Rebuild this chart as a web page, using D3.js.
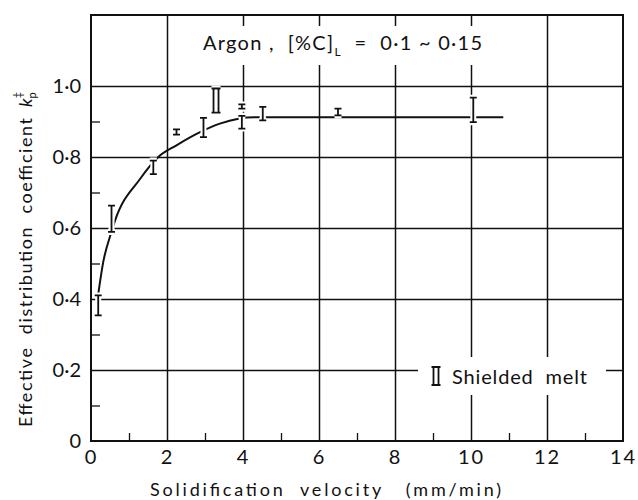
<!DOCTYPE html>
<html>
<head>
<meta charset="utf-8">
<script src="https://cdn.jsdelivr.net/npm/d3@7"></script>
<style>
body { margin: 0; background: #fff; }
text { font-family: Lato, "DejaVu Sans", sans-serif; fill: #111; white-space: pre; }
.grid line { stroke: #111; stroke-width: 1.5; }
.grid path { display: none; }
.minor line { stroke: #111; stroke-width: 1.3; }
.minor path { display: none; }
.lbl path, .lbl line { display: none; }
</style>
</head>
<body>
<svg id="chart" width="638" height="500"></svg>
<script>
var xTicks = [0, 2, 4, 6, 8, 10, 12, 14];
var xMinor = [1, 3, 5, 7, 9, 11, 13];
var yTicks = [0, 0.2, 0.4, 0.6, 0.8, 1.0];
var yTickLabels = ["0", "0·2", "0·4", "0·6", "0·8", "1·0"];
var yMinor = [0.1, 0.3, 0.5, 0.7, 0.9];

// argon, measured scatter bars (velocity, low k, high k)
var barVelocity = [0.19, 0.54, 1.64, 2.25, 2.96, 3.97, 3.97, 4.52, 6.5, 10.06];
var barLow      = [0.354, 0.589, 0.752, 0.863, 0.856, 0.880, 0.936, 0.903, 0.917, 0.898];
var barHigh     = [0.410, 0.663, 0.790, 0.878, 0.910, 0.916, 0.948, 0.941, 0.936, 0.967];

// shielded melt
var shieldVelocity = [3.29];
var shieldLow      = [0.925];
var shieldHigh     = [0.993];

// fitted curve
var curveVelocity = [0.19, 0.32, 0.52, 0.63, 1.29, 1.77, 2.25, 2.87, 3.39, 3.88, 4.3, 10.85];
var curveK        = [0.413, 0.503, 0.583, 0.62, 0.738, 0.80, 0.833, 0.87, 0.894, 0.908, 0.912, 0.912];

var margin = {top: 15, right: 15, bottom: 59, left: 91},
    width = 638 - margin.left - margin.right,
    height = 500 - margin.top - margin.bottom;

var svg = d3.select("#chart");
var g = svg.append("g")
    .attr("transform", "translate(" + margin.left + "," + margin.top + ")");

var x = d3.scaleLinear().domain([0, 14]).range([0, width]);
var y = d3.scaleLinear().domain([0, 1.2]).range([height, 0]);

// major grid
g.append("g").attr("class", "grid")
    .attr("transform", "translate(0," + height + ")")
    .call(d3.axisBottom(x).tickValues(xTicks.slice(1, -1)).tickSize(-height).tickFormat(""));
g.append("g").attr("class", "grid")
    .call(d3.axisLeft(y).tickValues(yTicks.slice(1)).tickSize(-width).tickFormat(""));

// minor ticks inside the frame
g.append("g").attr("class", "minor")
    .attr("transform", "translate(0," + height + ")")
    .call(d3.axisBottom(x).tickValues(xMinor).tickSize(-8).tickFormat(""));
g.append("g").attr("class", "minor")
    .call(d3.axisLeft(y).tickValues(yMinor).tickSize(-9).tickFormat(""));

// tick labels
g.append("g").attr("class", "lbl")
    .attr("transform", "translate(0," + height + ")")
    .call(d3.axisBottom(x).tickValues(xTicks).tickSize(0).tickPadding(9))
    .selectAll("text").style("font-size", "20px").style("font-family", "Lato, sans-serif")
    .style("letter-spacing", "2px").attr("fill", "#111");
g.append("g").attr("class", "lbl")
    .call(d3.axisLeft(y).tickValues(yTicks).tickSize(0).tickPadding(10)
        .tickFormat(function(d, i) { return yTickLabels[i]; }))
    .selectAll("text").style("font-size", "20px").style("font-family", "Lato, sans-serif")
    .attr("fill", "#111");

// annotation, breaks the grid behind it
var note = g.append("g");
var noteBg = note.append("rect").attr("fill", "#fff");
var noteText = note.append("text")
    .attr("x", 112).attr("y", 35)
    .attr("textLength", 279).attr("lengthAdjust", "spacing")
    .style("font-size", "20px");
noteText.append("tspan").text("Argon ,  [%C]");
noteText.append("tspan").attr("dy", 6).style("font-size", "12px").text("L");
noteText.append("tspan").attr("dy", -6).text("  =  0·1 ~ 0·15");
var nb = noteText.node().getBBox();
noteBg.attr("x", nb.x - 8).attr("y", nb.y - 4).attr("width", nb.width + 16).attr("height", nb.height + 10);

// legend
var leg = g.append("g");
var legBg = leg.append("rect").attr("fill", "#fff");
var legText = leg.append("text")
    .attr("x", 361).attr("y", 369)
    .attr("textLength", 135).attr("lengthAdjust", "spacing")
    .style("font-size", "20px")
    .text("Shielded  melt");
var lb = legText.node().getBBox();
legBg.attr("x", lb.x - 34).attr("y", lb.y - 7).attr("width", lb.width + 53).attr("height", lb.height + 14);

// curve
var line = d3.line()
    .x(function(d) { return x(d[0]); })
    .y(function(d) { return y(d[1]); })
    .curve(d3.curveMonotoneX);
g.append("path")
    .datum(d3.zip(curveVelocity, curveK))
    .attr("d", line)
    .attr("fill", "none")
    .attr("stroke", "#111")
    .attr("stroke-width", 2);

// I-shaped scatter bars
function barPath(cx, y0, y1, w) {
  return "M" + (cx - w) + "," + y0 + "H" + (cx + w) +
         "M" + cx + "," + y0 + "V" + y1 +
         "M" + (cx - w) + "," + y1 + "H" + (cx + w);
}
function doubleBarPath(cx, y0, y1) {
  return "M" + (cx - 4.5) + "," + y0 + "H" + (cx + 4.5) +
         "M" + (cx - 2.5) + "," + y0 + "V" + y1 +
         "M" + (cx + 2.5) + "," + y0 + "V" + y1 +
         "M" + (cx - 4.5) + "," + y1 + "H" + (cx + 4.5);
}

var bars = d3.range(barVelocity.length).map(function(i) {
  return barPath(x(barVelocity[i]), y(barHigh[i]), y(barLow[i]), 3.5);
});
var shields = d3.range(shieldVelocity.length).map(function(i) {
  return doubleBarPath(x(shieldVelocity[i]), y(shieldHigh[i]), y(shieldLow[i]));
});
var legendMark = doubleBarPath(lb.x - 16, lb.y + 3, lb.y + lb.height - 3);

var marks = bars.concat(shields).concat([legendMark]);
g.selectAll(".halo").data(marks).enter().append("path")
    .attr("class", "halo")
    .attr("d", function(d) { return d; })
    .attr("fill", "none").attr("stroke", "#fff").attr("stroke-width", 6);
g.selectAll(".mark").data(marks).enter().append("path")
    .attr("class", "mark")
    .attr("d", function(d) { return d; })
    .attr("fill", "none").attr("stroke", "#111").attr("stroke-width", 1.8);

// frame
g.append("rect")
    .attr("width", width).attr("height", height)
    .attr("fill", "none").attr("stroke", "#111").attr("stroke-width", 2);

// axis titles
svg.append("text")
    .attr("x", 150).attr("y", 496)
    .attr("textLength", 351).attr("lengthAdjust", "spacing")
    .style("font-size", "18px")
    .text("Solidification  velocity   (mm/min)");

var yt = svg.append("g").attr("transform", "translate(32,427) rotate(-90)");
yt.append("text")
    .attr("x", 0).attr("y", 0)
    .attr("textLength", 309).attr("lengthAdjust", "spacing")
    .style("font-size", "18px")
    .text("Effective  distribution  coefficient");
var kt = yt.append("text").attr("x", 320).attr("y", 0).style("font-size", "18px");
kt.append("tspan").style("font-style", "italic").text("k");
kt.append("tspan").attr("dy", 4).style("font-size", "11px").text("p");
kt.append("tspan").attr("dx", -6).attr("dy", -14).style("font-size", "11px").text("‡");
</script>
</body>
</html>
